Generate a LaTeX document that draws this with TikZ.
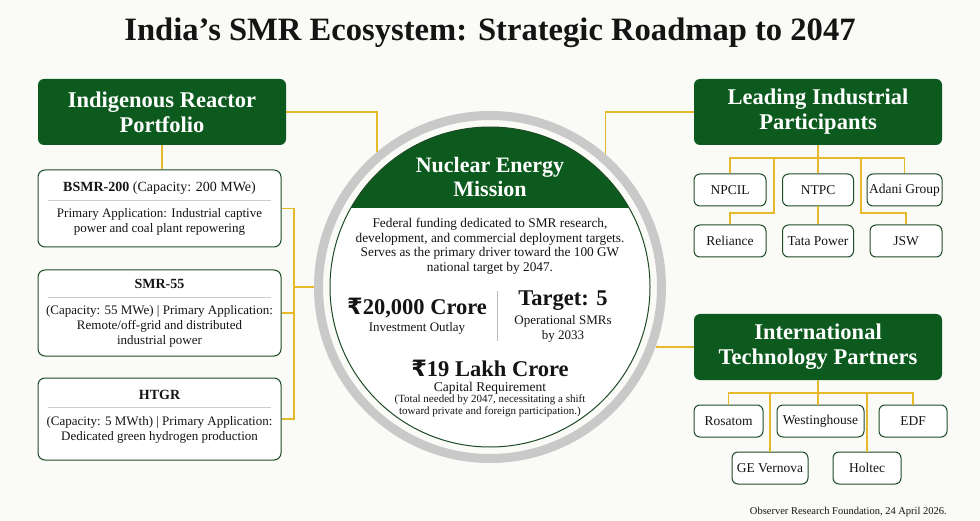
\documentclass[tikz,border=0pt]{standalone}
\usepackage{fontspec}
\setmainfont{Liberation Serif}
\newfontfamily\rupfont{DejaVu Sans}
\newcommand{\rupeesign}{{\rupfont ₹}}
\definecolor{dg}{HTML}{0C5A1E}
\definecolor{bd}{HTML}{1E4A26}
\definecolor{yl}{HTML}{E6B92A}
\definecolor{rg}{HTML}{C9C9C9}
\definecolor{bgc}{HTML}{FAFAF7}
\definecolor{txt}{HTML}{141414}
\begin{document}
\begin{tikzpicture}[x=1pt,y=-1pt,
  hdr/.style={fill=dg, rounded corners=6pt, text=white, font=\bfseries\fontsize{22.5}{25}\selectfont, align=center, minimum width=248, minimum height=66, inner sep=0},
  card/.style={draw=bd, line width=1pt, fill=white, rounded corners=7pt, minimum width=243, inner sep=0},
  chip/.style={draw=bd, line width=1pt, fill=white, rounded corners=6pt, minimum height=32, inner sep=0, font=\fontsize{13.5}{16}\selectfont, text=txt},
  link/.style={draw=yl, line width=1.3pt},
  body/.style={font=\fontsize{13}{15.2}\selectfont, align=center, inner sep=0, text=txt},
  sepline/.style={draw=gray!40, line width=0.8pt},
  big/.style={font=\bfseries\fontsize{22.5}{24}\selectfont, inner sep=0, text=txt}
]
\fill[bgc] (0,0) rectangle (980,521);
\useasboundingbox (0,0) rectangle (980,521);

% title
\node[font=\bfseries\fontsize{32.6}{36}\selectfont, text=txt, inner sep=0] (title) at (490,32.5) {India’s SMR Ecosystem: Strategic Roadmap to 2047};

% central circle
\node[circle, minimum size=352, inner sep=0, outer sep=0] (ring) at (490,287) {};
\draw[rg, line width=9pt] (490,287) circle[radius=171.5];
\fill[white] (490,287) circle[radius=160];
\begin{scope}
  \clip (490,287) circle[radius=160];
  \fill[dg] (300,100) rectangle (680,208);
\end{scope}
\draw[bd, line width=1pt] (490,287) circle[radius=160];

\node[font=\bfseries\fontsize{22}{23.5}\selectfont, text=white, align=center, inner sep=0] (nem) at (490,177) {Nuclear Energy\\Mission};
\node[body, font=\fontsize{13.3}{14.5}\selectfont] (desc) at (490,246.5) {Federal funding dedicated to SMR research,\\development, and commercial deployment targets.\\Serves as the primary driver toward the 100 GW\\national target by 2047.};
\node[big] (inv) at (417,308) {\rupeesign20,000 Crore};
\node[body] (invl) at (417,328) {Investment Outlay};
\node[inner sep=0] (dtop) at (497,290) {};
\node[inner sep=0] (dbot) at (497,342) {};
\draw[gray!55, line width=0.9pt] (dtop) -- (dbot);
\node[big] (tgt) at (563,301) {Target: 5};
\node[body] (tgtl) at (563,328.5) {Operational SMRs\\by 2033};
\node[big] (cap) at (490,368) {\rupeesign19 Lakh Crore};
\node[body, font=\fontsize{13.5}{15}\selectfont] (capl) at (490,388) {Capital Requirement};
\node[body, font=\fontsize{11}{12}\selectfont] (capn) at (490,406) {(Total needed by 2047, necessitating a shift\\toward private and foreign participation.)};

% headers
\node[hdr] (ind) at (162,112) {Indigenous Reactor\\Portfolio};
\node[hdr] (lead) at (818,112) {Leading Industrial\\Participants};
\node[hdr] (intl) at (818,347) {International\\Technology Partners};

% reactor cards
\node[card, minimum height=77] (bsmr) at (159.5,208.5) {};
\node[card, minimum height=86] (smr) at (159.5,313) {};
\node[card, minimum height=82] (htgr) at (159.5,419) {};

\node[body, font=\fontsize{14}{16}\selectfont] (b1) at (159.5,188) {\textbf{BSMR-200} (Capacity: 200 MWe)};
\draw[sepline] (48,200) -- (271,200);
\node[body] (b2) at (159.5,222) {Primary Application: Industrial captive\\power and coal plant repowering};

\node[body, font=\bfseries\fontsize{14}{16}\selectfont] (s1) at (159.5,284) {SMR-55};
\draw[sepline] (48,297) -- (271,297);
\node[body] (s2) at (159.5,326.5) {(Capacity: 55 MWe) | Primary Application:\\Remote/off-grid and distributed\\industrial power};

\node[body, font=\bfseries\fontsize{14}{16}\selectfont] (h1) at (159.5,395) {HTGR};
\draw[sepline] (48,407) -- (271,407);
\node[body] (h2) at (159.5,430) {(Capacity: 5 MWth) | Primary Application:\\Dedicated green hydrogen production};

% industrial chips
\node[chip, minimum width=72] (npcil) at (730,190) {NPCIL};
\node[chip, minimum width=71] (ntpc) at (818,190) {NTPC};
\node[chip, minimum width=75] (adani) at (904.5,190) {Adani Group};
\node[chip, minimum width=72] (rel) at (730,241) {Reliance};
\node[chip, minimum width=71] (tata) at (818,241) {Tata Power};
\node[chip, minimum width=72] (jsw) at (906,241) {JSW};

% international chips
\node[chip, minimum width=69] (ros) at (728.5,421) {Rosatom};
\node[chip, minimum width=87] (wh) at (820.5,421) {Westinghouse};
\node[chip, minimum width=68] (edf) at (913,421) {EDF};
\node[chip, minimum width=76] (gev) at (770,468) {GE Vernova};
\node[chip, minimum width=68] (hol) at (867,468) {Holtec};

% connectors: left
\draw[link] (ind.east) -| (ring.130.8);
\draw[link] (ind.south) -- (ind.south |- bsmr.north);
\coordinate (lb) at (294,287);
\draw[link] (bsmr.east) -- (bsmr.east -| lb) -- (htgr.east -| lb) -- (htgr.east);
\draw[link] (smr.east) -- (smr.east -| lb);
\draw[link] (lb) -- (ring.west);

% connectors: right top
\draw[link] (lead.west) -| (ring.49.2);
\coordinate (lj) at (818,158);
\draw[link] (lead.south) -- (ntpc.north);
\draw[link] (npcil.north) |- (adani.north |- lj) -- (adani.north);
\coordinate (rt) at (774,158);
\coordinate (rb) at (774,213);
\draw[link] (rt) -- (rb) -| (rel.north);
\coordinate (jt) at (861,158);
\coordinate (jb) at (861,213);
\draw[link] (jt) -- (jb) -| (jsw.north);
\draw[link] (ntpc.south) -- (tata.north);

% connectors: right bottom
\draw[link] (intl.west) -- (intl.west -| ring.-19.9);
\coordinate (ij) at (818,393);
\draw[link] (intl.south) -- (intl.south |- wh.north);
\draw[link] (ros.north) |- (edf.north |- ij) -- (edf.north);
\draw[link] (gev.north) -- (gev.north |- ij);
\draw[link] (hol.north) -- (hol.north |- ij);

% footer
\node[anchor=east, font=\fontsize{10.5}{12}\selectfont, inner sep=0, text=txt] (foot) at (947,512) {Observer Research Foundation, 24 April 2026.};
\end{tikzpicture}
\end{document}
